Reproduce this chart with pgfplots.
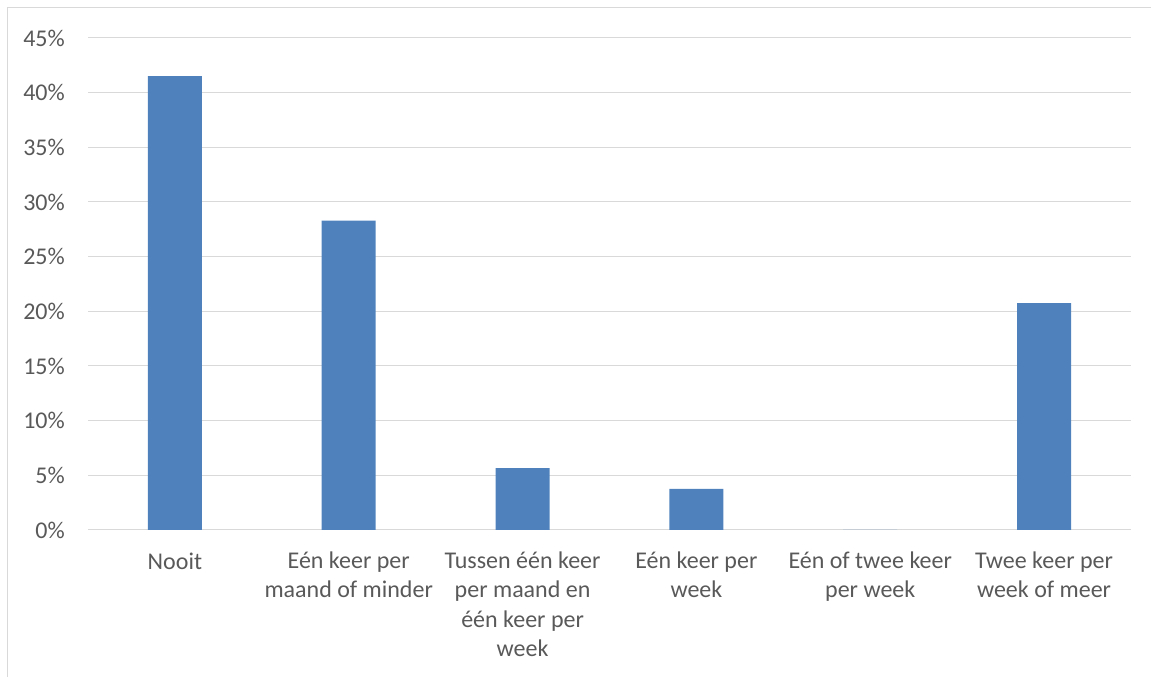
\documentclass[border=0pt]{standalone}
\usepackage{pgfplots}
\pgfplotsset{compat=1.18}
\usepackage{fontspec}
\setmainfont{Carlito}
\definecolor{barblue}{HTML}{4F81BD}
\definecolor{gridgray}{HTML}{D9D9D9}
\definecolor{txtgray}{HTML}{595959}
\begin{document}
\begin{tikzpicture}
\useasboundingbox (0,0) rectangle (1151pt,677pt);
\draw[gridgray, line width=1pt] (7.5pt,0) -- (7.5pt,669pt) -- (1151pt,669pt);
\begin{axis}[
  at={(88pt,147pt)}, anchor=south west,
  scale only axis, width=1043pt, height=492pt,
  xmin=-0.5, xmax=5.5, ymin=0, ymax=45,
  ytick={0,5,...,45},
  yticklabels={0\%,5\%,10\%,15\%,20\%,25\%,30\%,35\%,40\%,45\%},
  xtick={0,...,5},
  xticklabels={Nooit,{Eén keer per\\maand of minder},{Tussen één keer\\per maand en\\één keer per\\week},{Eén keer per\\week},{Eén of twee keer\\per week},{Twee keer per\\week of meer}},
  ymajorgrids, grid style={gridgray, line width=1pt},
  axis line style={draw=none},
  major tick length=0pt, tick style={draw=none},
  tick label style={font=\fontsize{24}{29.5}\selectfont, text=txtgray},
  xticklabel style={align=center, anchor=north, inner sep=0pt, yshift=-21.5pt, execute at begin node={\rule{0pt}{18pt}}},
  yticklabel style={anchor=east, inner sep=0pt, xshift=-23pt},
  ybar, bar width=54pt,
]
\addplot[fill=barblue, draw=none] coordinates {(0,41.51) (1,28.30) (2,5.66) (3,3.77) (4,0) (5,20.75)};
\end{axis}
\end{tikzpicture}
\end{document}
